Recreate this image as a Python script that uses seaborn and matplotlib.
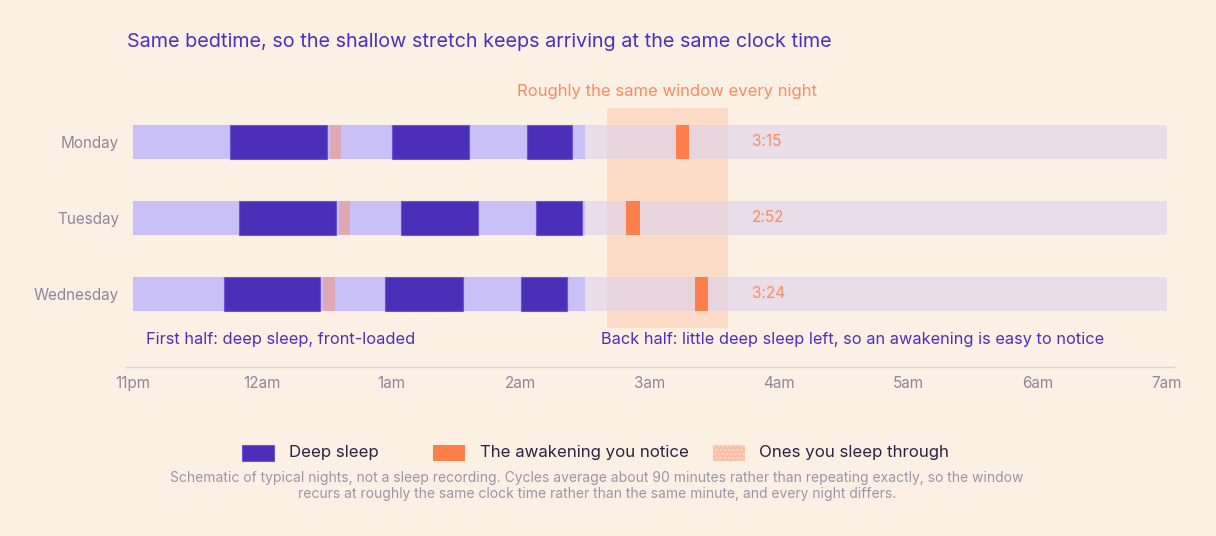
import matplotlib
matplotlib.use("Agg")
import matplotlib.pyplot as plt
import seaborn as sns
import pandas as pd
from matplotlib.patches import Rectangle

# ---------------- data (hours after 11pm) ----------------
days = ["Monday", "Tuesday", "Wednesday"]
night_length = [8.0, 8.0, 8.0]
light_end = [3.50, 3.50, 3.50]
deep_starts = [[0.75, 2.00, 3.05], [0.82, 2.07, 3.12], [0.70, 1.95, 3.00]]
deep_ends = [[1.50, 2.60, 3.40], [1.57, 2.67, 3.47], [1.45, 2.55, 3.36]]
pink_start = [1.52, 1.59, 1.47]
pink_end = [1.61, 1.68, 1.56]
wake_labels = ["3:15", "2:52", "3:24"]
wake_hours = [4.25, 3.867, 4.40]
window_start, window_end = 3.67, 4.60
tick_labels = ["11pm", "12am", "1am", "2am", "3am", "4am", "5am", "6am", "7am"]
legend_labels = ["Deep sleep", "The awakening you notice", "Ones you sleep through"]

BG = "#FCF0E5"
DEEP = "#4B2FB8"
LIGHT = "#CAC0F8"
PINK = "#DFA8B5"
ORANGE = "#FF7F4A"
PURPLE_TXT = "#4B2FC0"
GRAY = "#8E879A"

sns.set_theme(style="white")
plt.rcParams["font.family"] = ["Inter", "DejaVu Sans"]

W, Hpx = 1216, 536
fig = plt.figure(figsize=(12.16, 5.36), dpi=100, facecolor=BG)
ax = fig.add_axes([126 / W, 1 - 366.7 / Hpx, (1174 - 126) / W, (366.7 - 85) / Hpx])
ax.set_facecolor(BG)

H = 0.447
# window highlight
ax.fill_between([window_start, window_end], -0.45, 2.45, color="#FFB890", alpha=0.35, lw=0, zorder=1)

# faded full-night bar
df = pd.DataFrame({"day": days, "len": night_length})
sns.barplot(data=df, x="len", y="day", orient="h", color="#D8CFEE", alpha=0.55,
            width=H, saturation=1, ax=ax, zorder=2, linewidth=0)

for i in range(len(days)):
    ax.barh(i, light_end[i], left=0, height=H, color=LIGHT, lw=0, zorder=3)
    for s, e in zip(deep_starts[i], deep_ends[i]):
        ax.barh(i, e - s, left=s, height=H, color=DEEP, edgecolor="#6B55D6", lw=0.8, zorder=4)
    ax.barh(i, pink_end[i] - pink_start[i], left=pink_start[i], height=H, color=PINK, lw=0, zorder=4)
    w = 0.105
    ax.barh(i, w, left=wake_hours[i] - w / 2, height=H, color=ORANGE, lw=0, zorder=5)
    ax.text(4.79, i, wake_labels[i], color="#FF8A5B", fontsize=11, va="center", ha="left", zorder=6)

ax.text((window_start + window_end) / 2, -0.66, "Roughly the same window every night",
        color="#FF8A5B", fontsize=12, ha="center", va="center")
ax.text(0.10, 2.605, "First half: deep sleep, front-loaded", color=PURPLE_TXT, fontsize=11.8,
        ha="left", va="center")
ax.text(3.62, 2.605, "Back half: little deep sleep left, so an awakening is easy to notice",
        color=PURPLE_TXT, fontsize=11.75, ha="left", va="center")

ax.set_xlim(-0.055, 8.055)
ax.set_ylim(2.957, -0.75)
ax.set_xticks(range(9))
ax.set_xticklabels(tick_labels)
ax.set_xlabel("")
ax.set_ylabel("")
ax.tick_params(axis="x", colors=GRAY, labelsize=11, length=0, pad=7)
ax.tick_params(axis="y", colors=GRAY, labelsize=11, length=0, pad=5)
for s in ["top", "right", "left"]:
    ax.spines[s].set_visible(False)
ax.spines["bottom"].set_color("#D9D2DA")
ax.spines["bottom"].set_linewidth(1)

fig.text(127 / W, 1 - 42 / Hpx, "Same bedtime, so the shallow stretch keeps arriving at the same clock time",
         color=PURPLE_TXT, fontsize=14.25, ha="left", va="center")

# legend (placed item by item)
patch_x = [242, 433, 713]
text_x = [289, 480, 759]
patch_style = [
    dict(facecolor=DEEP, edgecolor="#6B55D6", lw=0.8),
    dict(facecolor=ORANGE, lw=0),
    dict(facecolor="#F8C0A6", edgecolor="#FBD8C6", hatch="....", lw=0),
]
for px, tx, lab, st in zip(patch_x, text_x, legend_labels, patch_style):
    fig.add_artist(Rectangle((px / W, 1 - 461 / Hpx), 32 / W, 16 / Hpx, transform=fig.transFigure, **st))
    fig.text(tx / W, 1 - 453 / Hpx, lab, color="#2A2440", fontsize=12.1, ha="left", va="center")

fig.text(597 / W, 1 - 486 / Hpx,
         "Schematic of typical nights, not a sleep recording. Cycles average about 90 minutes rather than repeating exactly, so the window\n"
         "recurs at roughly the same clock time rather than the same minute, and every night differs.",
         color="#9C95A8", fontsize=10, ha="center", va="center", linespacing=1.2)

fig.savefig("out.png", dpi=100, facecolor=BG)
